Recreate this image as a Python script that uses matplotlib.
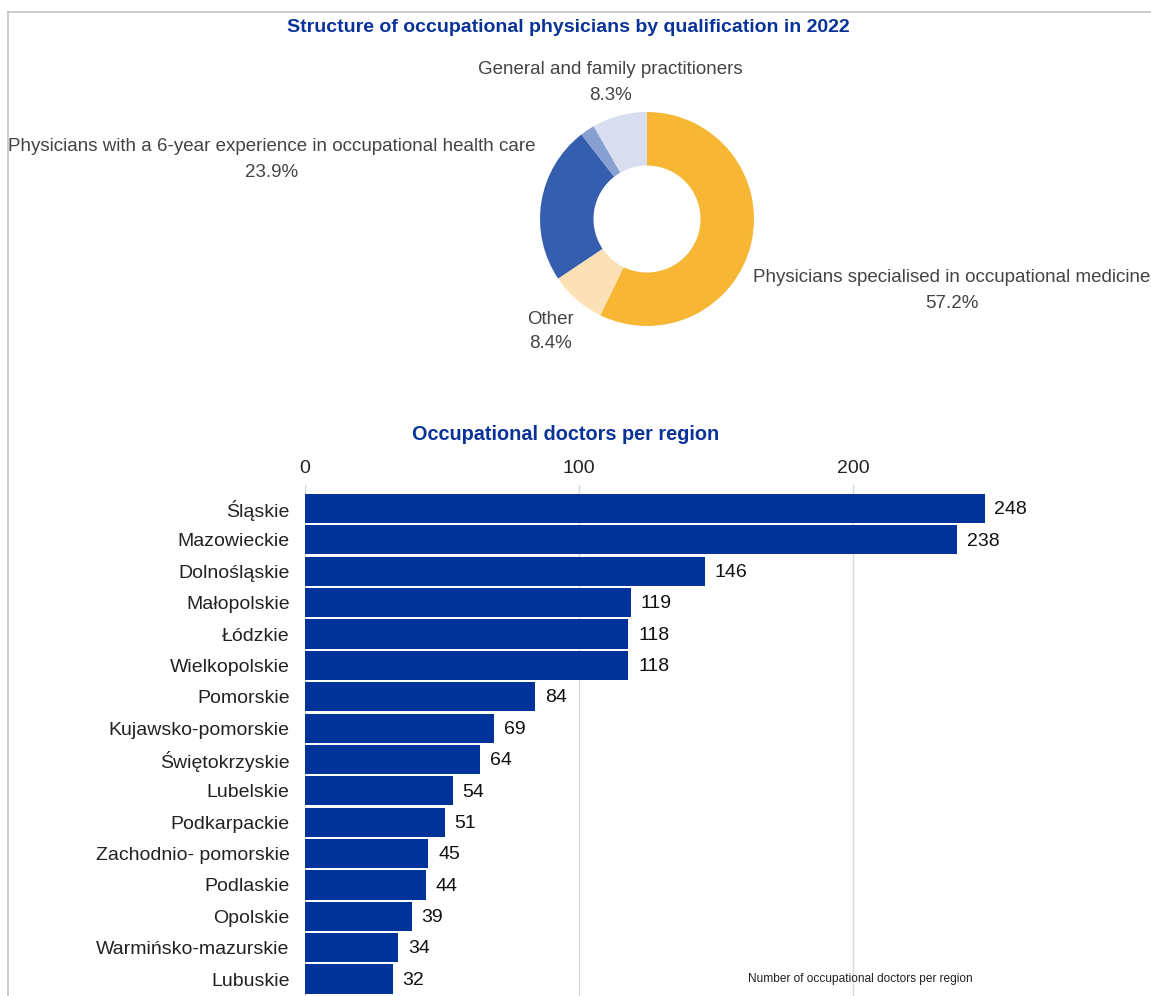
import matplotlib.pyplot as plt
from matplotlib.lines import Line2D

plt.rcParams['font.family'] = ['Liberation Sans', 'DejaVu Sans']

# qualification structure, 2022 (share in %)
qual_names = [
    'Physicians specialised in occupational medicine',
    'Other',
    'Physicians with a 6-year experience in occupational health care',
    '',
    'General and family practitioners',
]
qual_share = [57.2, 8.4, 23.9, 2.2, 8.3]
qual_colors = ['#f7b735', '#fce1b6', '#355fae', '#87a0d1', '#d8deef']

# occupational doctors by voivodeship
regions = [
    'Śląskie', 'Mazowieckie', 'Dolnośląskie', 'Małopolskie', 'Łódzkie',
    'Wielkopolskie', 'Pomorskie', 'Kujawsko-pomorskie', 'Świętokrzyskie',
    'Lubelskie', 'Podkarpackie', 'Zachodnio- pomorskie', 'Podlaskie',
    'Opolskie', 'Warmińsko-mazurskie', 'Lubuskie',
]
doctors = [248, 238, 146, 119, 118, 118, 84, 69, 64, 54, 51, 45, 44, 39, 34, 32]
x_ticks = [0, 100, 200]

W, H = 1151, 996
TITLE_BLUE = '#0a3399'
BAR_BLUE = '#00339a'
LABEL_GREY = '#444444'

fig = plt.figure(figsize=(W / 100, H / 100), dpi=100)


def px(x, y):
    return x / W, 1 - y / H


# thin frame along top and left
fig.add_artist(Line2D([8 / W, 1], [1 - 12 / H] * 2, color='#c4c4c4', lw=1.2))
fig.add_artist(Line2D([8 / W] * 2, [0, 1 - 12 / H], color='#c4c4c4', lw=1.2))

# ---- donut ----
fig.text(*px(568, 28), 'Structure of occupational physicians by qualification in 2022',
         ha='center', va='center', fontsize=14, fontweight='bold', color=TITLE_BLUE)

cx, cy, r = 647, 219, 107
ax_pie = fig.add_axes([(cx - r) / W, 1 - (cy + r) / H, 2 * r / W, 2 * r / H])
ax_pie.pie(qual_share, colors=qual_colors, startangle=90, counterclock=False,
           radius=1, wedgeprops=dict(width=0.5, linewidth=0))
ax_pie.set_xlim(-1, 1)
ax_pie.set_ylim(-1, 1)
ax_pie.set_aspect('auto')
ax_pie.axis('off')

label_pos = {0: (952, 277, 304), 1: (550, 319, 343), 2: (272, 146, 172), 4: (610, 69, 96)}
for i, (x, y1, y2) in label_pos.items():
    fig.text(*px(x, y1), qual_names[i], ha='center', va='center',
             fontsize=13.5, color=LABEL_GREY)
    fig.text(*px(x, y2), f'{qual_share[i]:.1f}%', ha='center', va='center',
             fontsize=13.5, color=LABEL_GREY)

# ---- bars ----
fig.text(*px(566, 434), 'Occupational doctors per region', ha='center', va='center',
         fontsize=14.3, fontweight='bold', color=TITLE_BLUE)

ax = fig.add_axes([305 / W, 0, (990 - 305) / W, 1 - 485 / H])
ypos = list(range(len(regions)))
ax.barh(ypos, doctors, height=0.93, color=BAR_BLUE, zorder=2)
for y, v in zip(ypos, doctors):
    ax.annotate(str(v), (v, y + 0.04), xytext=(7, 0), textcoords='offset points',
                ha='left', va='center', fontsize=14, color='#111111')

ax.set_xlim(0, 250)
ax.set_ylim(15.54, -0.75)
ax.set_yticks(ypos)
ax.set_yticklabels(regions, fontsize=14, color='#222222')
ax.set_xticks(x_ticks)
ax.xaxis.tick_top()
ax.tick_params(axis='x', length=0, pad=6, labelsize=14, labelcolor='#222222')
ax.tick_params(axis='y', length=0, pad=11)
ax.grid(axis='x', color='#d9d9d9', lw=1, zorder=0)
for s in ax.spines.values():
    s.set_visible(False)

fig.text(*px(860, 979), 'Number of occupational doctors per region', ha='center',
         va='center', fontsize=8.6, color='#222222')

fig.savefig('out.png', dpi=100)
